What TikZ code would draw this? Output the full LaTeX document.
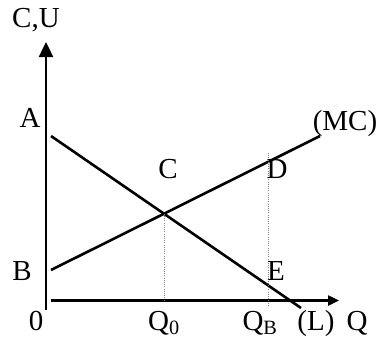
\documentclass[tikz,border=0pt]{standalone}
\usepackage{fontspec}
\setmainfont{Liberation Serif}
\usetikzlibrary{arrows.meta, intersections}

\begin{document}
\begin{tikzpicture}[x=1pt, y=-1pt, font=\fontsize{29}{32}\selectfont,
    achse/.style={line width=2.4pt},
    kurve/.style={line width=2.6pt},
    hilfslinie/.style={gray, line width=0.9pt, dash pattern=on 1pt off 1.2pt},
    beschriftung/.style={anchor=base, inner sep=0pt}]

    % --- 1. RAHMEN ---
    \useasboundingbox (0,0) rectangle (381,343);

    % --- 2. PUNKTE ---
    \coordinate (ursprung) at (46,310);
    \coordinate (yspitze) at (46,42);
    \coordinate (xstart) at (51,300.5);
    \coordinate (xspitze) at (339,300.5);
    \coordinate (lstart) at (51,136);
    \coordinate (lende) at (301,308);
    \coordinate (mcstart) at (51,270);
    \coordinate (mcende) at (320,136);
    \coordinate (qboben) at (268,153);
    \coordinate (qbunten) at (268,306);

    % --- 3. ACHSEN ---
    \draw[achse, -{Triangle[length=15pt, width=14pt]}] (ursprung) -- (yspitze);
    \draw[achse, -{Triangle[length=11pt, width=10pt]}] (xstart) -- (xspitze);

    % --- 4. KURVEN ---
    \draw[kurve, name path=lkurve] (lstart) -- (lende);
    \draw[kurve, name path=mckurve] (mcstart) -- (mcende);
    \path[name intersections={of=lkurve and mckurve, by=schnitt}];

    % Hilfslinien
    \coordinate (qnullunten) at (schnitt |- xstart);
    \draw[hilfslinie] (schnitt) -- (qnullunten);
    \draw[hilfslinie] (qboben) -- (qbunten);

    % --- 5. BESCHRIFTUNG ---
    \node[beschriftung] (cu) at (36,27) {C,U};
    \node[beschriftung] (a) at (30,127) {A};
    \node[beschriftung] (b) at (22,280) {B};
    \node[beschriftung] (null) at (36,330) {0};
    \node[beschriftung] (c) at (168,178) {C};
    \node[beschriftung] (d) at (277,178) {D};
    \node[beschriftung] (e) at (276,280) {E};
    \node[beschriftung] (mc) at (345,130) {(MC)};
    \node[beschriftung] (qnull) at (164,330) {Q\textsubscript{0}};
    \node[beschriftung] (qb) at (260,330) {Q\textsubscript{B}};
    \node[beschriftung] (l) at (316,330) {(L)};
    \node[beschriftung] (q) at (357,330) {Q};

\end{tikzpicture}
\end{document}
